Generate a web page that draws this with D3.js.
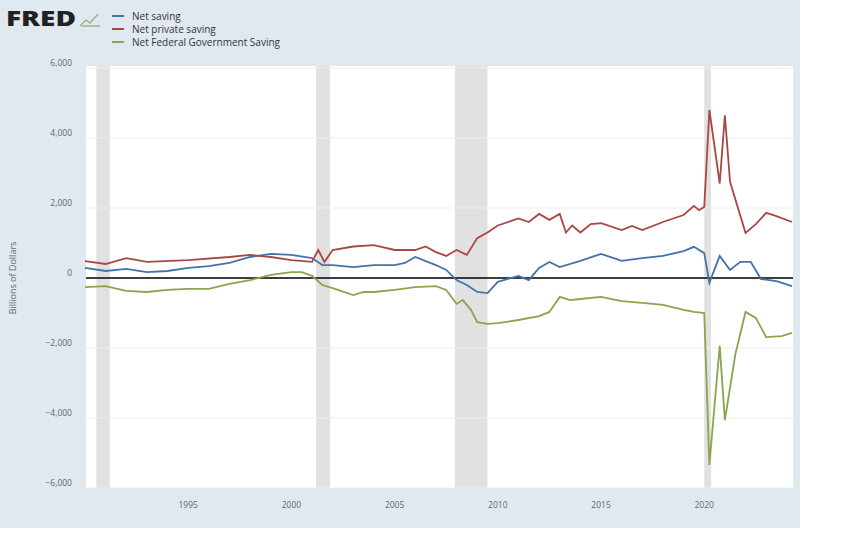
<!DOCTYPE html>
<html><head><meta charset="utf-8">
<script src="https://cdn.jsdelivr.net/npm/d3@7"></script>
<style>body{margin:0;background:#fff}svg{display:block}text{font-family:"Open Sans",sans-serif}</style>
</head><body><svg id="c" width="862" height="536"></svg>
<script>
// dates as decimal years, values in billions of dollars
var netSaving = [[1990,290],[1991,200],[1992,260],[1993,170],[1994,200],[1995,290],[1996,340],[1997,430],[1998,600],[1999,690],[2000,660],[2001,570],[2001.5,370],[2002,370],[2003,310],[2004,370],[2005,370],[2005.5,430],[2006,600],[2007,370],[2007.5,230],[2008,-60],[2008.5,-200],[2009,-400],[2009.5,-430],[2010,-110],[2011,60],[2011.5,-60],[2012,290],[2012.5,460],[2013,310],[2014,490],[2015,690],[2016,490],[2017,570],[2018,630],[2019,770],[2019.5,890],[2020,710],[2020.25,-140],[2020.75,630],[2021.25,230],[2021.75,460],[2022.25,460],[2022.75,-30],[2023.5,-90],[2024.25,-230]];
var netPrivate = [[1990,480],[1991,400],[1992,570],[1993,460],[1995,510],[1997,600],[1998,660],[1999,600],[2000,510],[2001,460],[2001.3,800],[2001.6,460],[2002,800],[2003,900],[2004,940],[2005,800],[2006,800],[2006.5,900],[2007,740],[2007.5,630],[2008,800],[2008.5,660],[2009,1140],[2009.5,1300],[2010,1500],[2011,1700],[2011.5,1600],[2012,1830],[2012.5,1660],[2013,1830],[2013.3,1300],[2013.6,1500],[2014,1300],[2014.5,1540],[2015,1570],[2016,1370],[2016.5,1490],[2017,1370],[2018,1600],[2019,1800],[2019.5,2060],[2019.75,1940],[2020,2030],[2020.25,4800],[2020.75,2700],[2021,4650],[2021.25,2750],[2022,1290],[2022.5,1540],[2023,1860],[2023.5,1770],[2024.25,1600]];
var netFederal = [[1990,-260],[1991,-230],[1992,-370],[1993,-400],[1994,-340],[1995,-310],[1996,-310],[1997,-170],[1998,-60],[1999,90],[2000,170],[2000.5,170],[2001,60],[2001.5,-200],[2002,-290],[2003,-490],[2003.5,-400],[2004,-400],[2005,-340],[2006,-260],[2007,-230],[2007.5,-340],[2008,-740],[2008.3,-630],[2008.7,-910],[2009,-1260],[2009.5,-1310],[2010,-1290],[2011,-1200],[2012,-1090],[2012.5,-970],[2013,-540],[2013.5,-630],[2014,-600],[2015,-540],[2016,-660],[2017,-710],[2018,-770],[2019,-910],[2019.5,-970],[2020,-1000],[2020.25,-5340],[2020.75,-1940],[2021,-4060],[2021.5,-2200],[2022,-970],[2022.5,-1140],[2023,-1690],[2023.75,-1660],[2024.25,-1570]];
var recessions = [[1990.55,1991.2],[2001.2,2001.87],[2007.92,2009.5],[2020.0,2020.33]];
var xTicks = [1995,2000,2005,2010,2015,2020];
var yTicks = [-6000,-4000,-2000,0,2000,4000,6000];
var seriesNames = ["Net saving","Net private saving","Net Federal Government Saving"];
var colors = ["#4572a7","#aa4643","#89a54e"];

var svg = d3.select("#c");
svg.append("rect").attr("width",800).attr("height",528).attr("fill","#e1e9f0");
var L=86,R=793,T=68,B=488;
var x = d3.scaleLinear().domain([1990.05,2024.3]).range([L,R]);
var y = d3.scaleLinear().domain([-6000,6000]).range([B,T]);
svg.append("rect").attr("x",L).attr("y",T-2).attr("width",R-L).attr("height",B-T+2).attr("fill","#fff");
svg.selectAll(".rec").data(recessions).enter().append("rect")
  .attr("x",function(d){return x(d[0]);}).attr("width",function(d){return x(d[1])-x(d[0]);})
  .attr("y",T-2).attr("height",B-T+2).attr("fill","#e1e1e1");
svg.selectAll(".grid").data(yTicks).enter().append("line")
  .attr("x1",L).attr("x2",R).attr("y1",y).attr("y2",y).attr("stroke","#eeeeee");
svg.selectAll(".yl").data(yTicks).enter().append("text")
  .attr("x",72).attr("y",function(d){return y(d)-2;}).attr("text-anchor","end")
  .attr("font-size",8.5).attr("fill","#666").text(d3.format(","));
svg.selectAll(".xl").data(xTicks).enter().append("text")
  .attr("x",x).attr("y",508).attr("text-anchor","middle")
  .attr("font-size",8.5).attr("fill","#666").text(String);
svg.append("text").attr("transform","translate(16,278) rotate(-90)").attr("text-anchor","middle")
  .attr("font-size",9).attr("fill","#666").text("Billions of Dollars");
svg.append("line").attr("x1",L).attr("x2",R).attr("y1",y(0)).attr("y2",y(0)).attr("stroke","#000").attr("stroke-width",1.5);
var line = d3.line().x(function(d){return x(d[0]);}).y(function(d){return y(d[1]);});
[netSaving,netPrivate,netFederal].forEach(function(s,i){
  svg.append("path").datum(s).attr("d",line).attr("fill","none").attr("stroke",colors[i]).attr("stroke-width",1.8);
});
// logo + legend
svg.append("text").attr("x",6).attr("y",26).attr("font-size",21).attr("font-weight",900)
  .attr("textLength",70).attr("lengthAdjust","spacingAndGlyphs")
  .attr("font-family","'DejaVu Sans',sans-serif").attr("fill","#222").text("FRED");
svg.append("path").attr("d","M80,26 L86,20 L90,23 L98,14 M82,26 L100,26").attr("fill","none").attr("stroke","#9db38a").attr("stroke-width",1.5);
seriesNames.forEach(function(n,i){
  var yy = 16 + i*13;
  svg.append("line").attr("x1",112).attr("x2",124).attr("y1",yy).attr("y2",yy).attr("stroke",colors[i]).attr("stroke-width",2);
  svg.append("text").attr("x",132).attr("y",yy+3.5).attr("font-size",10).attr("fill","#333").text(n);
});
</script></body></html>
